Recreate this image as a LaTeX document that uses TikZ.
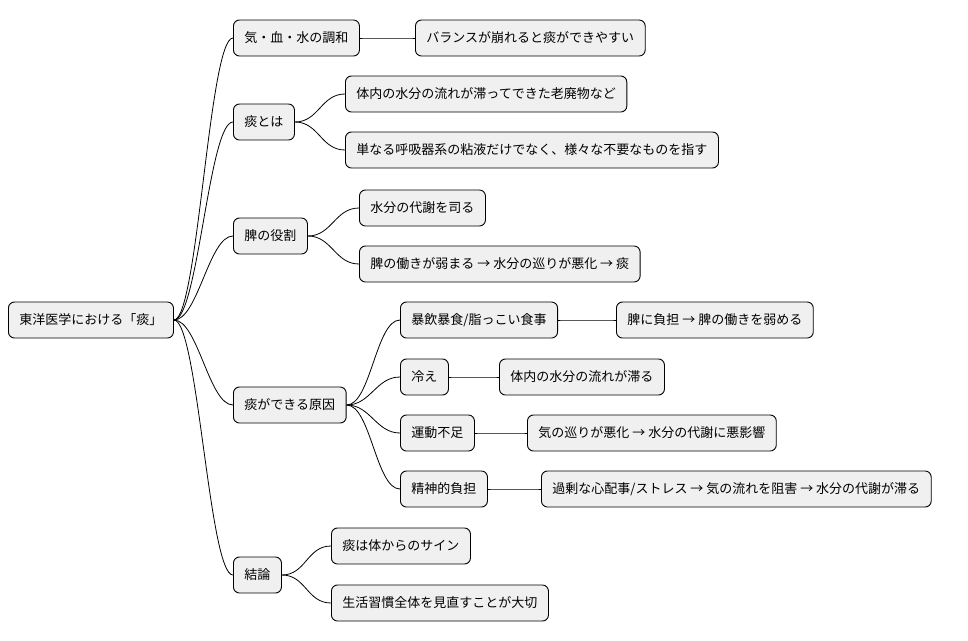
\documentclass[tikz,border=0pt]{standalone}
\usepackage{fontspec}
\setmainfont{Noto Sans CJK JP}
\begin{document}
\begin{tikzpicture}[x=1pt,y=-1pt,
 box/.style={draw=black,line width=0.9pt,fill=black!6,rounded corners=6pt,anchor=west,inner xsep=11pt,minimum height=36pt,font=\fontsize{13}{15}\selectfont},
 conn/.style={draw=black,line width=0.8pt}]
\useasboundingbox (0,0) rectangle (968,640);
\node[box] (r) at (8,320) {東洋医学における「痰」};
\node[box] (a) at (233,38) {気・血・水の調和};
\node[box] (a1) at (415,38) {バランスが崩れると痰ができやすい};
\node[box] (b) at (233,122) {痰とは};
\node[box] (b1) at (345,94) {体内の水分の流れが滞ってできた老廃物など};
\node[box] (b2) at (345,150) {単なる呼吸器系の粘液だけでなく、様々な不要なものを指す};
\node[box] (c) at (233,236) {脾の役割};
\node[box] (c1) at (359,208) {水分の代謝を司る};
\node[box] (c2) at (359,264) {脾の働きが弱まる → 水分の巡りが悪化 → 痰};
\node[box] (d) at (233,405) {痰ができる原因};
\node[box] (d1) at (400,320) {暴飲暴食/脂っこい食事};
\node[box] (d1a) at (616,320) {脾に負担 → 脾の働きを弱める};
\node[box] (d2) at (400,377) {冷え};
\node[box] (d2a) at (499,377) {体内の水分の流れが滞る};
\node[box] (d3) at (400,433) {運動不足};
\node[box] (d3a) at (527,433) {気の巡りが悪化 → 水分の代謝に悪影響};
\node[box] (d4) at (400,489) {精神的負担};
\node[box] (d4a) at (541,489) {過剰な心配事/ストレス → 気の流れを阻害 → 水分の代謝が滞る};
\node[box] (e) at (233,575) {結論};
\node[box] (e1) at (331,546) {痰は体からのサイン};
\node[box] (e2) at (331,603) {生活習慣全体を見直すことが大切};
\foreach \p/\c in {r/a,r/b,r/c,r/d,r/e,a/a1,b/b1,b/b2,c/c1,c/c2,d/d1,d/d2,d/d3,d/d4,d1/d1a,d2/d2a,d3/d3a,d4/d4a,e/e1,e/e2}
 \draw[conn] (\p.east) .. controls +(24,0) and +(-24,0) .. (\c.west);
\end{tikzpicture}
\end{document}
